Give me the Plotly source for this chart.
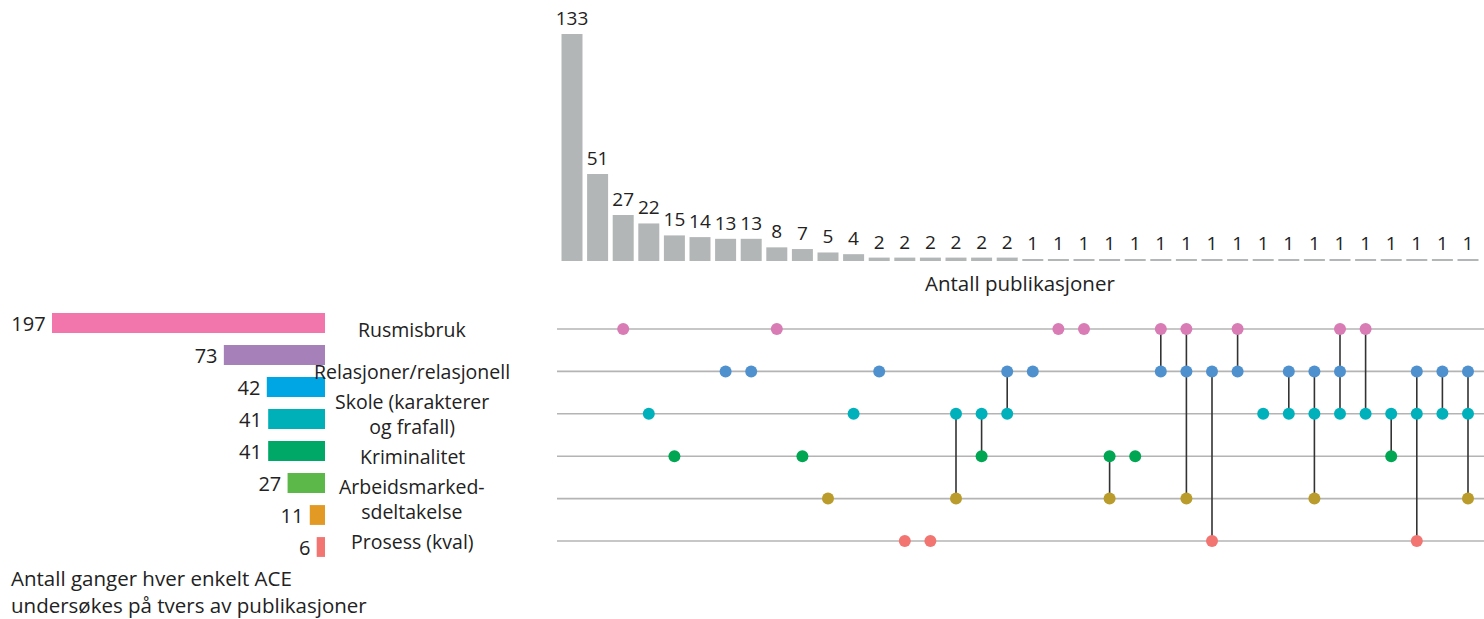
import plotly.graph_objects as go

# intersection sizes (top bars) and which rows each column contains
sizes = [133, 51, 27, 22, 15, 14, 13, 13, 8, 7, 5, 4,
         2, 2, 2, 2, 2, 2,
         1, 1, 1, 1, 1, 1, 1, 1, 1, 1, 1, 1, 1, 1, 1, 1, 1, 1]
combos = [[], [], [0], [2], [3], [], [1], [1], [0], [3], [4], [2], [1], [5], [5],
          [2, 4], [2, 3], [1, 2], [1], [0], [0], [3, 4], [3], [0, 1], [0, 1, 4],
          [1, 5], [0, 1], [2], [1, 2], [1, 2, 4], [0, 1, 2], [0, 2], [2, 3],
          [1, 2, 5], [1, 2], [1, 2, 4]]

rows = ["Rusmisbruk", "Relasjoner/relasjonell", "Skole (karakterer<br>og frafall)",
        "Kriminalitet", "Arbeidsmarked-<br>sdeltakelse", "Prosess (kval)"]
row_colors = ["#d97bb5", "#4f91ce", "#00b1bb", "#00a652", "#b99c2b", "#f27572"]

# left bars: number of times each ACE is studied
ace_counts = [197, 73, 42, 41, 41, 27, 11, 6]
ace_colors = ["#f276ab", "#a680b9", "#00a6e3", "#00b0b9", "#00a867", "#5cb848", "#e29a24", "#f27572"]

W, H = 1484, 619
FONT = "Open Sans"
TXT = "#222222"

fig = go.Figure()

cols = list(range(len(sizes)))

# top bars
fig.add_trace(go.Bar(
    x=cols, y=sizes, width=0.82, marker_color="#b3b6b7", marker_line_width=0,
    text=sizes, textposition="outside", constraintext="none",
    textfont=dict(size=19, color=TXT, family=FONT),
    cliponaxis=False, xaxis="x", yaxis="y", hoverinfo="skip"))

# matrix background lines
x0, x1 = (557 - 572) / 25.6, (W - 572) / 25.6
for r in range(len(rows)):
    fig.add_trace(go.Scatter(x=[x0, x1], y=[r, r], mode="lines",
                             line=dict(color="#b4b4b4", width=1.6),
                             xaxis="x2", yaxis="y2", hoverinfo="skip"))

# connectors
lx, ly = [], []
for c, members in enumerate(combos):
    if len(members) > 1:
        lx += [c, c, None]
        ly += [min(members), max(members), None]
fig.add_trace(go.Scatter(x=lx, y=ly, mode="lines", line=dict(color="#333333", width=1.6),
                         xaxis="x2", yaxis="y2", hoverinfo="skip"))

# dots
for r in range(len(rows)):
    xs = [c for c, m in enumerate(combos) if r in m]
    fig.add_trace(go.Scatter(x=xs, y=[r] * len(xs), mode="markers",
                             marker=dict(size=12, color=row_colors[r], line_width=0),
                             xaxis="x2", yaxis="y2", hoverinfo="skip"))

# left bars
fig.add_trace(go.Bar(
    x=ace_counts, y=list(range(len(ace_counts))), orientation="h", width=0.62,
    marker_color=ace_colors, marker_line_width=0,
    texttemplate="%{x}\u2009", textposition="outside", constraintext="none",
    textfont=dict(size=20, color=TXT, family=FONT),
    cliponaxis=False, xaxis="x3", yaxis="y3", hoverinfo="skip"))

annotations = [
    dict(text="Antall publikasjoner", x=1020 / W, y=1 - 283 / H, xref="paper", yref="paper",
         showarrow=False, xanchor="center", yanchor="middle",
         font=dict(size=20.5, color=TXT, family=FONT)),
    dict(text="Antall ganger hver enkelt ACE<br>undersøkes på tvers av publikasjoner",
         x=9 / W, y=1 - 591 / H, xref="paper", yref="paper", showarrow=False,
         xanchor="left", yanchor="middle", align="left",
         font=dict(size=20.5, color=TXT, family=FONT)),
]
for r, name in enumerate(rows):
    annotations.append(dict(text=name, x=412 / W, y=r, xref="paper", yref="y2",
                            showarrow=False, xanchor="center", yanchor="middle", align="center",
                            font=dict(size=19.5, color=TXT, family=FONT)))

hidden = dict(visible=False, fixedrange=True)
fig.update_layout(
    width=W, height=H, margin=dict(l=0, r=0, t=0, b=0),
    paper_bgcolor="white", plot_bgcolor="rgba(0,0,0,0)",
    showlegend=False, font=dict(family=FONT, color=TXT),
    annotations=annotations,
    xaxis=dict(domain=[0, 1], range=[-572 / 25.6, x1], **hidden),
    yaxis=dict(domain=[1 - 261 / H, 1], range=[0, 261 / 227 * 133], **hidden),
    xaxis2=dict(domain=[0, 1], range=[-572 / 25.6, x1], anchor="y2", **hidden),
    yaxis2=dict(domain=[0, 1], range=[(H - 329) / 42.4, -329 / 42.4], anchor="x2", **hidden),
    xaxis3=dict(domain=[0, 325 / W], range=[325 / (273 / 197), 0], anchor="y3", **hidden),
    yaxis3=dict(domain=[0, 1], range=[(H - 323) / 32.0, -323 / 32.0], anchor="x3", **hidden),
)

fig.write_html("out.html", config={"displayModeBar": False},
               post_script="document.body.style.margin='0';")
